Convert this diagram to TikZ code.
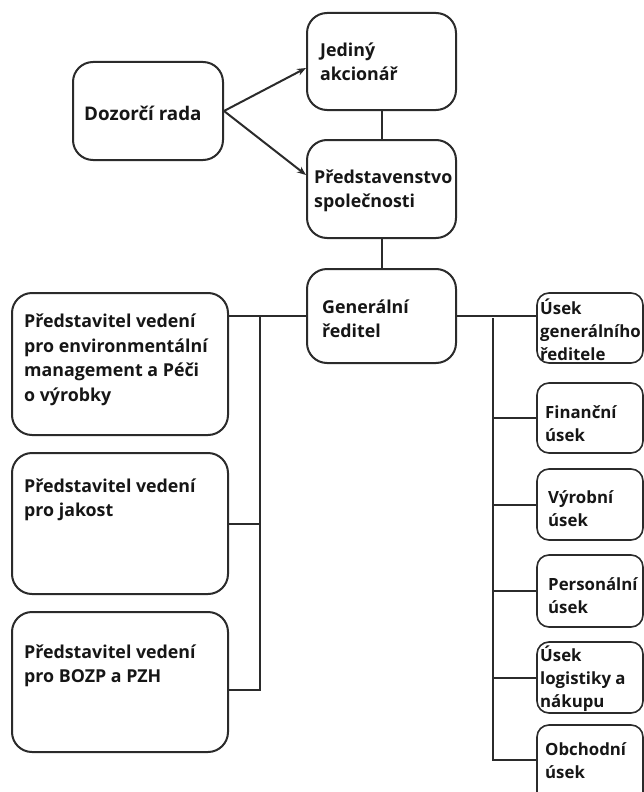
\documentclass[tikz,border=0pt]{standalone}
\usepackage{fontspec}
\setmainfont{Open Sans}
\usetikzlibrary{arrows.meta}
\definecolor{ln}{HTML}{2B2B2B}
\definecolor{tx}{HTML}{161616}
\begin{document}
\begin{tikzpicture}[x=1pt,y=-1pt,
  box/.style={draw=ln, line width=2pt, rounded corners=20pt, inner sep=0pt, fill=white},
  sbox/.style={draw=ln, line width=1.6pt, rounded corners=12pt, inner sep=0pt, minimum width=106pt, fill=white},
  lbl/.style={anchor=west, inner sep=0pt, align=left, text=tx, font=\fontsize{17.8pt}{24.5pt}\selectfont\bfseries},
  slbl/.style={anchor=west, inner sep=0pt, align=left, text=tx, font=\fontsize{16.8pt}{23pt}\selectfont\bfseries},
  conn/.style={draw=ln, line width=2pt},
  arr/.style={draw=ln, line width=2pt, -{Stealth[length=9pt,width=7pt]}}]
\useasboundingbox (0,0) rectangle (644,792);
\clip (0,0) rectangle (644,792);
% top boxes
\node[box, minimum width=150pt, minimum height=98pt] (dr) at (148,111) {};
\node[box, minimum width=149pt, minimum height=97pt] (ja) at (381.5,61.5) {};
\node[box, minimum width=149pt, minimum height=98pt] (ps) at (381.5,189) {};
\node[box, minimum width=149pt, minimum height=94pt] (gr) at (381.5,316) {};
% left boxes
\node[box, minimum width=216pt, minimum height=142pt] (l1) at (120,364) {};
\node[box, minimum width=216pt, minimum height=141pt] (l2) at (120,523.5) {};
\node[box, minimum width=216pt, minimum height=140pt] (l3) at (120,682) {};
% right boxes
\node[sbox, minimum height=70pt] (r1) at (590,328) {};
\node[sbox, minimum height=70pt] (r2) at (590,418) {};
\node[sbox, minimum height=71pt] (r3) at (590,504.5) {};
\node[sbox, minimum height=72pt] (r4) at (590,591) {};
\node[sbox, minimum height=71pt] (r5) at (590,677.5) {};
\node[sbox, minimum height=80pt] (r6) at (590,765) {};
% labels
\node[lbl, font=\fontsize{18.8pt}{24.5pt}\selectfont\bfseries] (tdr) at (84,113) {Dozorčí rada};
\node[lbl] (tja) at (320,62) {Jediný\\akcionář};
\node[lbl] (tps) at (314,191) {Představenstvo\\společnosti};
\node[lbl] (tgr) at (322,319) {Generální\\ředitel};
\node[lbl] (tl1) at (24,360) {Představitel vedení\\pro environmentální\\management a Péči\\o výrobky};
\node[lbl] (tl2) at (24,500) {Představitel vedení\\pro jakost};
\node[lbl] (tl3) at (24,666) {Představitel vedení\\pro BOZP a PZH};
\node[slbl] (tr1) at (540,330) {Úsek\\generálního\\ředitele};
\node[slbl] (tr2) at (545,424) {Finanční\\úsek};
\node[slbl] (tr3) at (548,509) {Výrobní\\úsek};
\node[slbl] (tr4) at (548,596) {Personální\\úsek};
\node[slbl] (tr5) at (540,679) {Úsek\\logistiky a\\nákupu};
\node[slbl] (tr6) at (545,761) {Obchodní\\úsek};
% connectors top
\draw[arr] (dr.east) -- ([yshift=-6.5pt]ja.west);
\draw[arr] (dr.east) -- ([yshift=14pt]ps.west);
\draw[conn] (ja.south) -- (ps.north);
\draw[conn] (ps.south) -- (gr.north);
% left bus
\coordinate (lb) at (260,316);
\coordinate (lb3) at (260,690);
\draw[conn] (gr.west) -- (gr.west -| l1.east);
\draw[conn] (lb) -- (lb3) -- (lb3 -| l3.east);
\draw[conn] (lb |- l2.east) -- (l2.east);
% right bus
\coordinate (rb) at (493,318);
\coordinate (rb6) at (493,760);
\draw[conn] (gr.east) -- (gr.east -| r1.west);
\draw[conn] (rb) -- (rb6) -- (rb6 -| r6.west);
\draw[conn] (rb |- r2.west) -- (r2.west);
\draw[conn] (rb |- r3.west) -- (r3.west);
\draw[conn] (rb |- r4.west) -- (r4.west);
\draw[conn] (rb |- r5.west) -- (r5.west);
\end{tikzpicture}
\end{document}
